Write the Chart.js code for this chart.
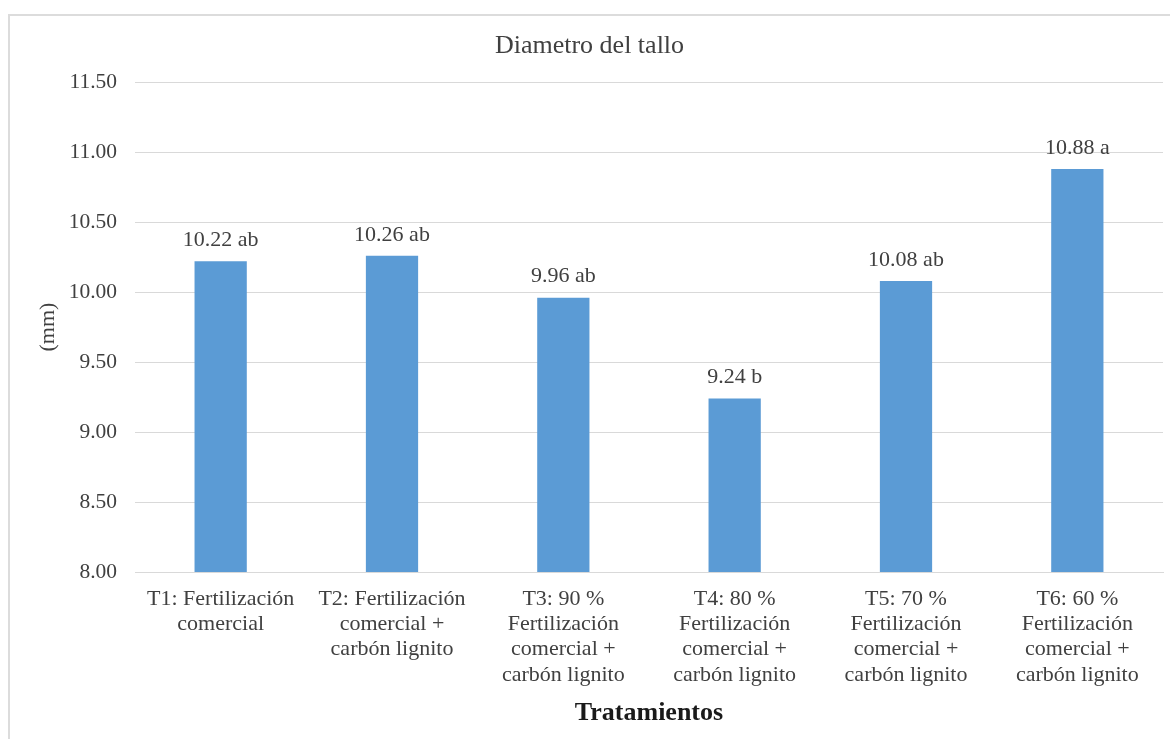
<!DOCTYPE html>
<html lang="es">
<head>
<meta charset="utf-8">
<title>Diametro del tallo</title>
<script src="https://cdn.jsdelivr.net/npm/chart.js@4.4.1/dist/chart.umd.min.js"></script>
<style>
  html, body { margin: 0; padding: 0; background: #ffffff; overflow: hidden; }
  #wrap { position: relative; width: 1170px; height: 739px; }
  #frame {
    position: absolute; left: 8px; top: 14px; width: 1200px; height: 760px;
    border-left: 2px solid #dcdcdc; border-top: 2px solid #dcdcdc; box-sizing: border-box;
  }
  canvas { position: absolute; left: 0; top: 0; }
</style>
</head>
<body>
<div id="wrap">
  <div id="frame"></div>
  <canvas id="chart" width="1170" height="739"></canvas>
</div>
<script>
// Tratamientos y diámetro medio del tallo (mm), con letras de comparación de medias
const categories = [
  ['T1: Fertilización', 'comercial'],
  ['T2: Fertilización', 'comercial +', 'carbón lignito'],
  ['T3: 90 %', 'Fertilización', 'comercial +', 'carbón lignito'],
  ['T4: 80 %', 'Fertilización', 'comercial +', 'carbón lignito'],
  ['T5: 70 %', 'Fertilización', 'comercial +', 'carbón lignito'],
  ['T6: 60 %', 'Fertilización', 'comercial +', 'carbón lignito']
];
const diametro = [10.22, 10.26, 9.96, 9.24, 10.08, 10.88];
const letras = ['ab', 'ab', 'ab', 'b', 'ab', 'a'];
const yTicks = [8.00, 8.50, 9.00, 9.50, 10.00, 10.50, 11.00, 11.50];

const serif = '"Liberation Serif", "Times New Roman", serif';

// Etiquetas "valor + letra" sobre cada barra
const barLabels = {
  id: 'barLabels',
  afterDatasetsDraw(chart) {
    const ctx = chart.ctx;
    const meta = chart.getDatasetMeta(0);
    ctx.save();
    ctx.font = '22px ' + serif;
    ctx.fillStyle = '#404040';
    ctx.textAlign = 'center';
    ctx.textBaseline = 'middle';
    meta.data.forEach((bar, i) => {
      const txt = diametro[i].toFixed(2) + ' ' + letras[i];
      ctx.fillText(txt, bar.x, bar.y - 21);
    });
    ctx.restore();
  }
};

new Chart(document.getElementById('chart'), {
  type: 'bar',
  data: {
    labels: categories,
    datasets: [{
      data: diametro,
      backgroundColor: '#5B9BD5',
      borderWidth: 0,
      barPercentage: 0.305,
      categoryPercentage: 1.0
    }]
  },
  options: {
    responsive: false,
    animation: false,
    layout: { padding: { left: 16, right: 7, top: 0, bottom: 0 } },
    plugins: {
      legend: { display: false },
      tooltip: { enabled: false },
      title: {
        display: true,
        text: 'Diametro del tallo',
        color: '#404040',
        font: { family: serif, size: 26, weight: 'normal', lineHeight: 1.2 },
        padding: { top: 31, bottom: 20 }
      }
    },
    scales: {
      x: {
        grid: { display: false, drawTicks: false },
        border: { display: true, color: '#d9d9d9', width: 1 },
        ticks: {
          color: '#404040',
          font: { family: serif, size: 22, lineHeight: 1.14 },
          padding: 15,
          maxRotation: 0,
          autoSkip: false
        },
        title: {
          display: true,
          text: 'Tratamientos',
          color: '#1a1a1a',
          font: { family: serif, size: 26, weight: 'bold', lineHeight: 1.2 },
          padding: { top: 0, bottom: 10 }
        },
        afterFit(scale) { scale.height = 739 - 572; }
      },
      y: {
        min: 8,
        max: 11.5,
        afterBuildTicks(scale) { scale.ticks = yTicks.map(v => ({ value: v })); },
        grid: { color: '#d9d9d9', lineWidth: 1, drawTicks: false },
        border: { display: false },
        ticks: {
          color: '#404040',
          font: { family: serif, size: 21.5 },
          padding: 18,
          callback: v => Number(v).toFixed(2)
        },
        title: {
          display: true,
          text: '(mm)',
          color: '#404040',
          font: { family: serif, size: 22, weight: 'normal', lineHeight: 1.2 },
          padding: { top: 19, bottom: 0 }
        },
        afterFit(scale) { scale.width = 119; }
      }
    }
  },
  plugins: [barLabels]
});
</script>
</body>
</html>
